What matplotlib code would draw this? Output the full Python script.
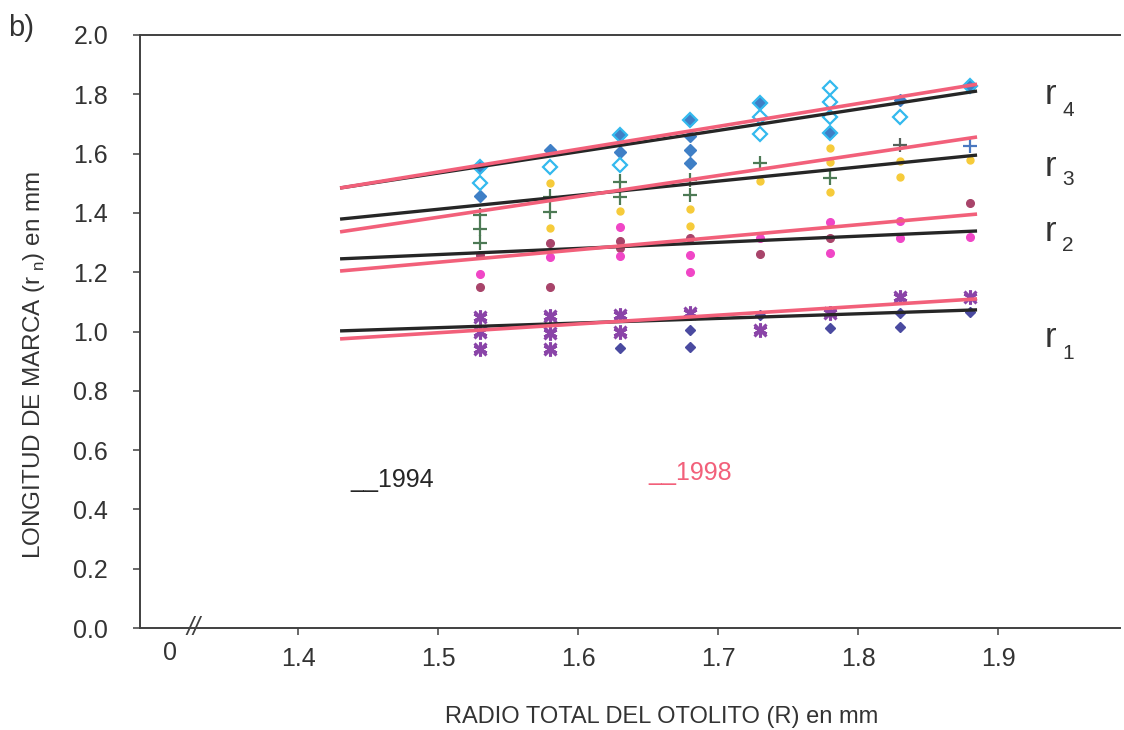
import matplotlib
matplotlib.use("Agg")
import matplotlib.pyplot as plt

plt.rcParams['font.family'] = ['Liberation Sans', 'DejaVu Sans']

# ---- data -------------------------------------------------------------
# ring radius (r1..r4) against total otolith radius, years 1994 and 1998
r4_1994_x = [1.53, 1.53, 1.58, 1.63, 1.63, 1.68, 1.68, 1.68, 1.68, 1.73, 1.78, 1.83, 1.88]
r4_1994_y = [1.555, 1.457, 1.612, 1.663, 1.607, 1.713, 1.659, 1.612, 1.567, 1.769, 1.668, 1.781, 1.829]

r4_1998_x = [1.53, 1.53, 1.58, 1.63, 1.63, 1.68, 1.73, 1.73, 1.73, 1.78, 1.78, 1.78, 1.78, 1.83, 1.88]
r4_1998_y = [1.555, 1.502, 1.556, 1.663, 1.562, 1.713, 1.769, 1.722, 1.665, 1.822, 1.773, 1.722, 1.668, 1.725, 1.829]

r3_1994_x = [1.53, 1.53, 1.53, 1.58, 1.58, 1.63, 1.63, 1.68, 1.68, 1.73, 1.78, 1.83, 1.88]
r3_1994_y = [1.393, 1.345, 1.300, 1.455, 1.404, 1.505, 1.452, 1.511, 1.460, 1.567, 1.517, 1.629, 1.627]
r3_1994_c = ['#4d7a55'] * 11 + ['#55605a', '#4a78c0']

r3_1998_x = [1.58, 1.58, 1.63, 1.68, 1.68, 1.73, 1.78, 1.78, 1.78, 1.83, 1.83, 1.88]
r3_1998_y = [1.500, 1.348, 1.406, 1.412, 1.356, 1.508, 1.620, 1.571, 1.469, 1.575, 1.522, 1.578]

r2_1994_x = [1.53, 1.53, 1.58, 1.58, 1.63, 1.63, 1.68, 1.73, 1.78, 1.88]
r2_1994_y = [1.258, 1.151, 1.300, 1.151, 1.306, 1.280, 1.314, 1.260, 1.314, 1.432]

r2_1998_x = [1.53, 1.58, 1.63, 1.63, 1.68, 1.68, 1.73, 1.78, 1.78, 1.83, 1.83, 1.88]
r2_1998_y = [1.193, 1.250, 1.351, 1.255, 1.258, 1.202, 1.314, 1.368, 1.264, 1.371, 1.317, 1.320]

r1_1994_x = [1.63, 1.68, 1.68, 1.73, 1.78, 1.83, 1.83, 1.88]
r1_1994_y = [0.943, 1.005, 0.949, 1.056, 1.011, 1.061, 1.016, 1.067]

r1_1998_x = [1.53, 1.53, 1.53, 1.58, 1.58, 1.58, 1.63, 1.63, 1.68, 1.73, 1.78, 1.83, 1.88]
r1_1998_y = [1.050, 0.999, 0.940, 1.052, 0.996, 0.940, 1.056, 0.999, 1.064, 1.005, 1.061, 1.118, 1.118]

# fitted regression lines (start / end values)
fit_x = [1.43, 1.885]
fit_1994 = {'r4': [1.484, 1.811], 'r3': [1.379, 1.595], 'r2': [1.245, 1.339], 'r1': [1.002, 1.073]}
fit_1998 = {'r4': [1.484, 1.834], 'r3': [1.336, 1.656], 'r2': [1.204, 1.396], 'r1': [0.975, 1.110]}

y_ticks = [0.0, 0.2, 0.4, 0.6, 0.8, 1.0, 1.2, 1.4, 1.6, 1.8, 2.0]
x_ticks = [1.4, 1.5, 1.6, 1.7, 1.8, 1.9]

# ---- styling ----------------------------------------------------------
TXT = '#333333'
BLACK = '#262626'
PINK = '#f2607a'

fig = plt.figure(figsize=(11.24, 7.30), dpi=100)
ax = fig.add_axes([140 / 1124, 102 / 730, 980 / 1124, 593 / 730])
ax.set_xlim(1.2871, 1.9871)
ax.set_ylim(0, 2.0)

# markers
star = (6, 2, 0)
ax.plot(r4_1994_x, r4_1994_y, 'D', ms=6, color='#3f7fc6', mec='#3f7fc6', zorder=3)
ax.plot(r4_1998_x, r4_1998_y, 'D', ms=7, mfc='none', mec='#33b9ee', mew=1.6, zorder=4)
ax.scatter(r3_1994_x, r3_1994_y, marker='+', s=110, c=r3_1994_c, linewidths=1.6, zorder=3)
ax.plot(r3_1998_x, r3_1998_y, 'o', ms=5, color='#f6cb3a', zorder=3)
ax.plot(r2_1994_x, r2_1994_y, 'o', ms=5.5, color='#a8446a', zorder=3)
ax.plot(r2_1998_x, r2_1998_y, 'o', ms=5.5, color='#f046c6', zorder=3)
ax.plot(r1_1994_x, r1_1994_y, 'D', ms=5.5, color='#4a4aa0', zorder=3)
ax.plot(r1_1998_x, r1_1998_y, marker=star, ls='none', ms=10, color='#8a44a8', mew=2.2, zorder=3)
ax.plot(r1_1998_x, r1_1998_y, marker='x', ls='none', ms=8, color='#8a44a8', mew=2.2, zorder=3)

# regression lines
for key in ['r1', 'r2', 'r3', 'r4']:
    ax.plot(fit_x, fit_1994[key], color=BLACK, lw=2.4, zorder=5, solid_capstyle='butt')
    ax.plot(fit_x, fit_1998[key], color=PINK, lw=2.6, zorder=6, solid_capstyle='butt')

# axes frame
for side in ['left', 'bottom', 'top']:
    ax.spines[side].set_color('#404040')
    ax.spines[side].set_linewidth(1.4)
ax.spines['right'].set_visible(False)

ax.set_yticks(y_ticks)
ax.set_yticklabels([f'{v:.1f}' for v in y_ticks])
ax.set_xticks(x_ticks)
ax.set_xticklabels([f'{v:.1f}' for v in x_ticks])
ax.tick_params(axis='y', direction='out', length=5, width=1.1, color='#404040',
               pad=18, labelsize=18, labelcolor=TXT)
ax.tick_params(axis='x', direction='out', length=5, width=1.1, color='#404040',
               pad=9, labelsize=18, labelcolor=TXT)

# origin label and axis break
ax.text(1.3086, -0.045, '0', ha='center', va='top', fontsize=18, color=TXT,
        clip_on=False)
ax.text(1.325, 0.0, '//', ha='center', va='center', fontsize=18, color='#404040',
        style='italic', clip_on=False)

# ring labels
for lab, sub, yv, ys in [('r', '4', 1.80, 1.747), ('r', '3', 1.558, 1.511),
                         ('r', '2', 1.336, 1.29), ('r', '1', 0.981, 0.927)]:
    ax.text(1.9335, yv, lab, ha='left', va='center', fontsize=25, color=TXT, clip_on=False)
    ax.text(1.9457, ys, sub, ha='left', va='center', fontsize=15, color=TXT, clip_on=False)

# year key
ax.text(1.4371, 0.476, '__1994', ha='left', va='baseline', fontsize=18, color=BLACK)
ax.text(1.65, 0.50, '__1998', ha='left', va='baseline', fontsize=18, color=PINK)

# axis titles
fig.text(0.030, 0.50, 'LONGITUD DE MARCA (r$_{\\ \\mathregular{n}}$) en mm', rotation=90,
         ha='center', va='center', fontsize=17.5, color=TXT)
fig.text(0.589, 0.018, 'RADIO TOTAL DEL OTOLITO (R) en mm', ha='center', va='center',
         fontsize=17, color=TXT)
fig.text(0.007, 0.962, 'b)', ha='left', va='center', fontsize=21, color=TXT)

fig.savefig('out.png', dpi=100, facecolor='white')
